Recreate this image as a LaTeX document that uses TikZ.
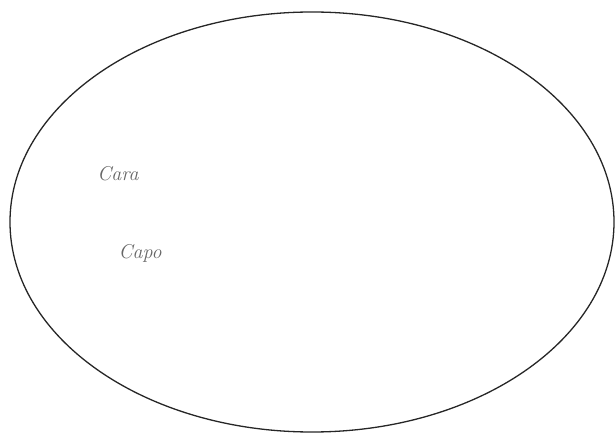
\documentclass[tikz,border=0pt]{standalone}
\begin{document}
\begin{tikzpicture}[x=1pt,y=1pt,
  handtext/.style={text=black!60, font=\itshape\fontsize{20}{22}\selectfont, inner sep=0pt}]
\useasboundingbox (0,0) rectangle (616,434);
\draw[line width=1.3pt, black!85] (312,212) ellipse [x radius=302, y radius=210];
\node[handtext] (cara) at (118,260) {Cara};
\node[handtext] (capo) at (140,181) {Capo};
\end{tikzpicture}
\end{document}
